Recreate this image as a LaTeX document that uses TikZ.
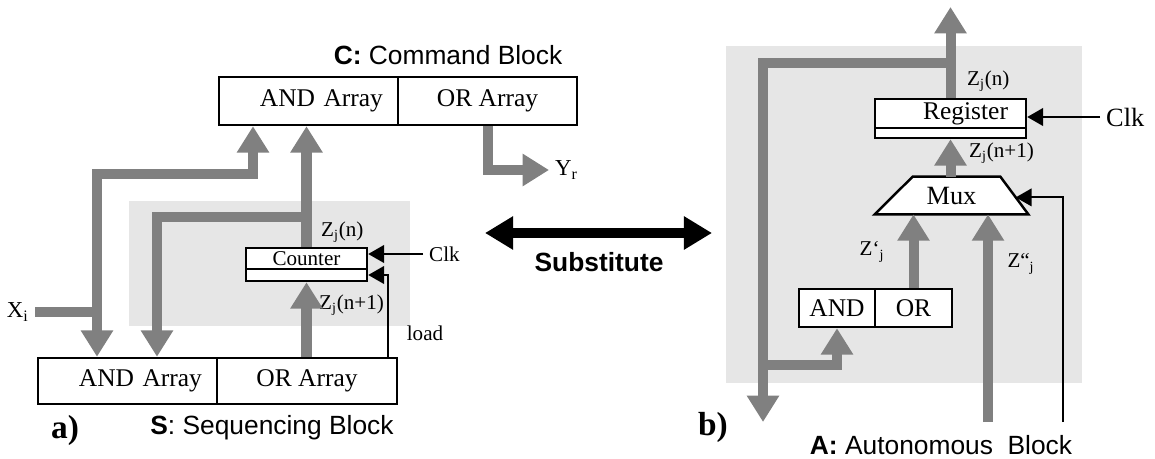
\documentclass[tikz,border=0pt]{standalone}
\usepackage{fontspec}
\setmainfont{Liberation Serif}
\setsansfont{Liberation Sans}
\usetikzlibrary{arrows.meta, calc}
\definecolor{busgray}{HTML}{808080}
\definecolor{panelgray}{HTML}{E6E6E6}

\begin{document}
\begin{tikzpicture}[x=0.02cm, y=-0.02cm,
        bus/.style={draw=busgray, line width=5.7pt, -{Triangle[length=15pt, width=17.5pt]}},
        sig/.style={line width=1.1pt, -{Triangle[length=9pt, width=10pt]}},
        cell/.style={draw, line width=1.4pt, fill=white, inner sep=0pt, font=\fontsize{14.5}{17}\selectfont},
        lbl/.style={font=\fontsize{12}{14}\selectfont},
        blocktitle/.style={font=\sffamily\fontsize{15}{18}\selectfont}]
    \useasboundingbox (0,0) rectangle (1155,459);

    % grey backgrounds
    \fill[panelgray] (129,201) rectangle (410,326);
    \fill[panelgray] (726,46) rectangle (1082,383);

    % a) command and sequencing blocks
    \node[cell, text width=2.98cm, inner xsep=0.3cm, align=right, minimum height=0.96cm] (cand) at (308.5,101) {AND Array};
    \node[cell, minimum width=3.58cm, minimum height=0.96cm] (cor) at (487.5,101) {OR Array};
    \node[blocktitle] at (448,55) {\textbf{C:} Command Block};

    \node[cell, text width=2.98cm, inner xsep=0.3cm, align=right, minimum height=0.92cm] (sand) at (127.5,381) {AND Array};
    \node[cell, minimum width=3.6cm, minimum height=0.92cm] (sor) at (307,381) {OR Array};
    \node[blocktitle] at (272,428) {\textbf{S}: Sequencing Block};
    \node[font=\bfseries\fontsize{19}{22}\selectfont] at (65,430) {a)};

    \node[cell, minimum width=2.42cm, minimum height=0.42cm, font=\fontsize{12}{14}\selectfont] (cnt) at (306.5,258.5) {Counter};
    \node[cell, minimum width=2.42cm, minimum height=0.24cm] (cntb) at (306.5,275) {};

    \node[lbl, anchor=east, font=\fontsize{13}{15}\selectfont] (xi) at (35,312) {X\textsubscript{i}};
    \node[lbl, anchor=west, font=\fontsize{13}{15}\selectfont] (yr) at (549,170) {Y\textsubscript{r}};
    \node[lbl, anchor=west] at (315,232) {Z\textsubscript{j}(n)};
    \node[lbl, anchor=west] at (313,305) {Z\textsubscript{j}(n+1)};

    \draw[bus] (xi.east) -| (sand.north -| 97,0);
    \draw[bus] (xi.east -| 97,0) -- (97,174) -| (cand.south -| 253,0);
    \draw[bus] (cnt.north) -- (cand.south -| cnt.north);
    \draw[bus] (cnt.north |- 0,217) -| (sand.north -| 157,0);
    \draw[bus] (sor.north -| cntb.south) -- (cntb.south);
    \draw[bus] (cor.south -| 488,0) |- (yr.west);

    \node[lbl, anchor=west] (clk1) at (423,254) {Clk};
    \node[lbl] (load) at (425,333) {load};
    \draw[sig] (clk1.west) -- (cnt.east |- clk1.west);
    \draw[sig] (sor.north -| 388,0) |- (cntb.east);

    % swap between the two versions
    \coordinate (subl) at (485,233);
    \coordinate (subr) at (712,233);
    \draw[line width=6.2pt, {Triangle[length=16pt, width=18pt]}-{Triangle[length=16pt, width=18pt]}] (subl) -- (subr);
    \node[font=\sffamily\bfseries\fontsize{15}{18}\selectfont] (sub) at (599,262) {Substitute};

    % b) autonomous block
    \node[cell, text width=2.3cm, inner xsep=0.36cm, align=right, minimum height=0.58cm] (reg) at (950.5,113.5) {Register};
    \node[cell, minimum width=3.02cm, minimum height=0.2cm] (regb) at (950.5,133) {};

    \node[minimum width=3.06cm, minimum height=0.74cm, inner sep=0pt] (mux) at (951.5,195.5) {};
    \draw[line width=1.4pt, fill=white] (mux.south west) -- ([xshift=0.76cm]mux.north west)
        -- ([xshift=-0.56cm]mux.north east) -- (mux.south east) -- cycle;
    \node[font=\fontsize{15}{18}\selectfont] at (mux) {Mux};

    \node[cell, minimum width=1.52cm, minimum height=0.76cm] (and2) at (837,308) {AND};
    \node[cell, minimum width=1.54cm, minimum height=0.76cm] (or2) at (913.5,308) {OR};

    \node[lbl, anchor=west] at (961,81) {Z\textsubscript{j}(n)};
    \node[lbl, anchor=west] at (963,153) {Z\textsubscript{j}(n+1)};
    \node[lbl] at (872,252) {Z‘\textsubscript{j}};
    \node[lbl] at (1021,264) {Z“\textsubscript{j}};

    \coordinate (out) at (952,7);
    \coordinate (fb) at (763,422);
    \coordinate (zin) at (988,422);
    \coordinate (sel) at (1063,422);
    \draw[bus] (reg.north) -- (reg.north |- out);
    \draw[bus] (reg.north |- 0,63) -| (fb);
    \draw[bus] (fb |- 0,365) -| (and2.south);
    \draw[bus] (regb.south |- mux.north) -- (regb.south);
    \draw[bus] (or2.north) -- (or2.north |- mux.south);
    \draw[bus] (zin) -- (zin |- mux.south);

    \node[anchor=west, font=\fontsize{15}{18}\selectfont] (clk2) at (1100,117) {Clk};
    \draw[sig] (clk2.west) -- (reg.east |- clk2.west);
    \draw[sig] (sel) |- ($([xshift=-0.56cm]mux.north east)!0.55!(mux.south east)$);

    \node[font=\bfseries\fontsize{19}{22}\selectfont] at (713,427) {b)};
    \node[blocktitle] at (941,445) {\textbf{A:} Autonomous\ \ Block};
\end{tikzpicture}
\end{document}
